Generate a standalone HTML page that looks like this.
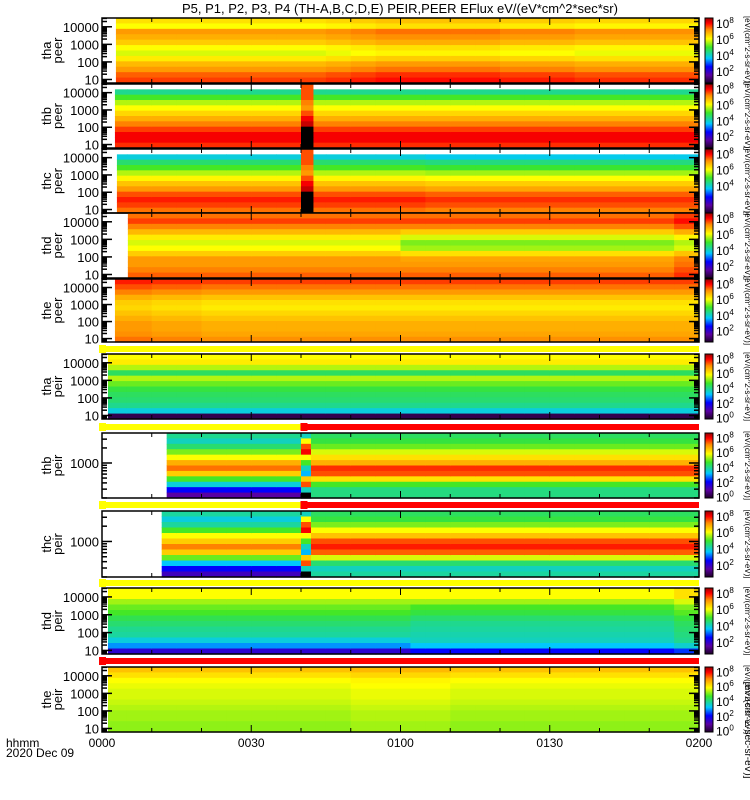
<!DOCTYPE html>
<html><head><meta charset="utf-8">
<style>
html,body{margin:0;padding:0;background:#fff;}
svg{display:block;font-family:"Liberation Sans",sans-serif;}
</style></head>
<body>
<svg id="chart" width="750" height="800" viewBox="0 0 750 800">
<defs>
<linearGradient id="cbgrad" x1="0" y1="1" x2="0" y2="0">
<stop offset="0" stop-color="rgb(30,0,40)"/>
<stop offset="0.12" stop-color="rgb(90,0,160)"/>
<stop offset="0.25" stop-color="rgb(0,0,255)"/>
<stop offset="0.38" stop-color="rgb(0,200,255)"/>
<stop offset="0.55" stop-color="rgb(60,230,40)"/>
<stop offset="0.68" stop-color="rgb(255,255,0)"/>
<stop offset="0.82" stop-color="rgb(255,140,0)"/>
<stop offset="0.92" stop-color="rgb(255,0,0)"/>
<stop offset="1" stop-color="rgb(150,0,0)"/>
</linearGradient>
</defs>
<text x="400" y="13" font-size="13" text-anchor="middle">P5, P1, P2, P3, P4 (TH-A,B,C,D,E) PEIR,PEER EFlux eV/(eV*cm^2*sec*sr)</text>
<g id="panels"></g>
<text x="6" y="747" font-size="12">hhmm</text>
<text x="6" y="757" font-size="12">2020 Dec 09</text>
</svg>
<script>
// ---- data ----
const panelNames = ["tha peer","thb peer","thc peer","thd peer","the peer","tha peir","thb peir","thc peir","thd peir","the peir"];
const panelStart = [2.8, 2.6, 3.0, 5.2, 2.6, 1.2, 13.0, 12.0, 1.2, 1.2];
const switchMin = [999, 999, 999, 60, 999, 999, 42, 42, 62, 999];
const profA = [
 [6.3,6.0,7.0,6.8,6.5,6.0,5.8,6.2,6.7,7.0,7.4,7.6],
 [null,4.3,5.0,5.6,6.0,6.4,6.8,7.2,7.6,8.0,8.0,7.7],
 [null,3.8,4.5,5.0,5.6,6.1,6.6,7.0,7.5,7.8,7.6,7.3],
 [7.3,7.6,7.2,6.7,6.2,5.8,6.0,6.5,7.0,7.0,7.2,7.4],
 [7.6,7.3,7.0,6.6,6.3,6.2,6.4,6.6,6.8,6.8,6.9,7.1],
 [6.0,6.2,5.6,4.6,5.6,5.2,4.8,4.6,4.5,4.3,3.8,0.8],
 [4.3,4.0,4.5,5.3,6.0,6.8,7.3,6.5,5.0,3.8,2.5,1.5],
 [4.2,3.8,4.2,5.0,6.0,6.5,7.2,6.5,5.2,3.6,2.5,1.8],
 [6.0,6.0,5.5,5.2,5.0,4.7,4.5,4.3,4.2,3.8,3.3,2.0],
 [6.6,6.3,6.0,5.9,5.8,5.8,5.7,5.6,5.5,5.5,5.4,5.4]
];
const profB = [
 null,null,null,
 [7.3,7.6,7.2,6.5,5.8,5.3,5.5,6.3,6.9,7.0,7.2,7.4],
 null,null,
 [4.6,4.8,5.2,5.8,6.3,6.8,7.7,7.5,6.3,5.0,4.4,4.4],
 [4.6,4.8,5.3,6.0,6.6,7.5,7.8,7.4,5.8,4.5,4.0,4.2],
 [6.0,6.0,5.5,5.0,4.8,4.5,4.3,4.2,4.1,4.0,3.6,2.5],
 null
];
const timeAdj = [
 [0,0,0,0,0,0,0,0,0,0.1,0.2,0.3,0.3,0.3,0.3,0.3,0.2,0.2,0.2,0.1,0.1,0.1,0.1,0.1],
 [0,0,0,0,0,0,0,0,0,0,0,0,0,0,0,0,0,0,0,0,0,0,0,0],
 [0,0,0,0,0,0,0,0,0,0,0,0,0,-0.1,-0.1,-0.1,-0.1,-0.1,-0.1,-0.1,-0.1,-0.1,-0.1,-0.1],
 [0,0,0,0,0,0,0,0,0,0,0,0,0,0,0,0,0,0,0,0,0,0,0,0.3],
 [0.2,0.2,0.1,0.1,0,0,0,0,0,0,0,0,0,0,0,0,0,0,0,0,0,0,0,0],
 [0,0,0,0,0,0,0,0,0,0,0,0,0,0,0,0,0,0,0,0,0,0,0,0],
 [0,0,0,0,0,0,0,0,0,0,0,0,0,0,0,0,0,0,0,0,0,0,0,0],
 [0,0,0,0,0,0,0,0,0,0,0,0,0,0,0,0,0,0,0,0,0,0,0,0],
 [0,0,0,0,0,0,0,0,0,0,0,0,0,0,0,0,0,0,0,0,0,0,0,0.3],
 [0,0,0,0,0,0,0,0,0,0,0.1,0.1,0.1,0.1,0,0,0,0,0,0,0,0,0,0]
];
const spikeStart = [null,40,40,null,null,null,40,40,null,null];
const spikeEnd = [null,42.5,42.5,null,null,null,42,42,null,null];
const spikeVals = [
 null,
 [7.5,7.5,7.5,7.2,7.0,7.5,8.0,8.3,0,0,0,0],
 [7.5,7.5,7.5,7.2,7.0,7.5,8.0,8.3,0,0,0,0],
 null,null,null,
 [4.0,6.0,7.5,8.0,6.0,5.0,4.0,3.5,6.5,7.5,4.0,0],
 [4.0,6.0,7.5,8.0,6.0,5.0,4.0,3.5,6.5,7.5,4.0,0],
 null,null
];
const yLogMin = [0.8,0.8,0.8,0.8,0.8,0.8,2.3,2.3,0.8,0.8];
const yLogMax = [4.5,4.5,4.5,4.5,4.5,4.5,3.6,3.6,4.5,4.5];
const cbarMin = [0.5,0.5,0.5,0.5,0.5,-0.2,-0.2,0.5,0.5,-0.2];
const cbarLabels = [[8,6,4,2],[8,6,4,2],[8,6,4],[8,6,4,2],[8,6,4,2],[8,6,4,2,0],[8,6,4,2,0],[8,6,4,2],[8,6,4,2],[8,6,4,2,0]];
const xTickLabels = ["0000","0030","0100","0130","0200"];
const barColorLeft = ["#ffff00","#ffff00","#ffff00","#ffff00","#ff0000"];
const barColorRight = ["#ffff00","#ff0000","#ff0000","#ffff00","#ff0000"];
const barSwitchMin = [null,40.5,40.5,null,null];

// ---- layout ----
const panelTop = [18,84,149,213,279,354,433,511,588,667];
const panelBot = [83,148,213,278,342,419,498,577,654,732];
const barY = [349,427,505,583,661];
const X0 = 102, X1 = 699;
const VMIN = 0.5, VMAX = 8.6;
const NS = "http://www.w3.org/2000/svg";
function xOf(min){ return X0 + (min/120)*(X1-X0); }
function yOf(p, lg){ return panelBot[p] - (lg - yLogMin[p])/(yLogMax[p]-yLogMin[p])*(panelBot[p]-panelTop[p]); }
const stops = [[0,[30,0,40]],[0.12,[90,0,160]],[0.25,[0,0,255]],[0.38,[0,200,255]],[0.55,[60,230,40]],[0.68,[255,255,0]],[0.82,[255,140,0]],[0.92,[255,0,0]],[1,[150,0,0]]];
function color(v){
  if (v <= 0.05) return "#000";
  let t = (v-VMIN)/(VMAX-VMIN); t = Math.max(0,Math.min(1,t));
  for (let i=1;i<stops.length;i++){
    if (t <= stops[i][0]){
      const a=stops[i-1], b=stops[i], f=(t-a[0])/(b[0]-a[0]);
      const c=a[1].map((q,k)=>Math.round(q+(b[1][k]-q)*f));
      return "rgb("+c.join(",")+")";
    }
  }
  return "rgb(150,0,0)";
}
function mk(tag, attrs, parent){
  const e = document.createElementNS(NS, tag);
  for (const k in attrs) e.setAttribute(k, attrs[k]);
  parent.appendChild(e); return e;
}
const root = document.getElementById("panels");
for (let p=0;p<10;p++){
  const g = mk("g",{},root);
  
  
  const top = panelTop[p], bot = panelBot[p], nR = 12, rh = (bot-top)/nR;
  for (let c=0;c<24;c++){
    let t0 = c*5, t1 = c*5+5;
    if (t1 <= panelStart[p]) continue;
    t0 = Math.max(t0, panelStart[p]);
    const segs = [];
    const sw = switchMin[p];
    if (sw > t0 && sw < t1){ segs.push([t0,sw]); segs.push([sw,t1]); } else segs.push([t0,t1]);
    for (const s of segs){
      const prof = (s[0] >= sw && profB[p]) ? profB[p] : profA[p];
      for (let r=0;r<nR;r++){
        if (prof[r] === null) continue;
        const v = prof[r] + timeAdj[p][c];
        const cell = mk("rect",{x:xOf(s[0]).toFixed(2), y:(top+r*rh).toFixed(2), width:(xOf(s[1])-xOf(s[0])+0.6).toFixed(2), height:(rh+0.6).toFixed(2), fill:color(v)}, g);
        
        
      }
    }
  }
  if (spikeStart[p] !== null){
    for (let r=0;r<12;r++){
      const cell = mk("rect",{x:xOf(spikeStart[p]), y:(top+r*rh).toFixed(2), width:(xOf(spikeEnd[p])-xOf(spikeStart[p])).toFixed(2), height:(rh+0.6).toFixed(2), fill:color(spikeVals[p][r])}, g);
      
      
    }
  }
  const fr = mk("rect",{x:X0,y:top,width:X1-X0,height:bot-top,fill:"none",stroke:"#000","stroke-width":1.5},g);
  
  
  for (let d=0; d<=5; d++){
    for (let m=1;m<=9;m++){
      const lg = d + Math.log10(m);
      if (lg < yLogMin[p] || lg > yLogMax[p]) continue;
      const y = yOf(p, lg), len = m===1?10:5;
      mk("line",{x1:X0,x2:X0+len,y1:y,y2:y,stroke:"#000","stroke-width":1.5},g);
      mk("line",{x1:X1,x2:X1-len,y1:y,y2:y,stroke:"#000","stroke-width":1.5},g);
      if (m===1){
        const tl = mk("text",{x:X0-3,y:y+5,"font-size":13,"text-anchor":"end"},g);
        tl.textContent = String(Math.pow(10,d));
        
        
      }
    }
  }
  for (let m=10;m<120;m+=10){
    const x = xOf(m), len = (m%30===0)?7:4;
    mk("line",{x1:x,x2:x,y1:bot,y2:bot-len,stroke:"#000"},g);
    mk("line",{x1:x,x2:x,y1:top,y2:top+len,stroke:"#000"},g);
  }
  const parts = panelNames[p].split(" ");
  const cy = (top+bot)/2;
  const yt = mk("text",{transform:"translate(53,"+cy+") rotate(-90)","font-size":13,"text-anchor":"middle"},g);
  
  
  const t1 = mk("tspan",{x:0,dy:-2},yt); t1.textContent = parts[0];
  const t2 = mk("tspan",{x:0,dy:11},yt); t2.textContent = parts[1];
  const cb = mk("rect",{x:705,y:top,width:8,height:bot-top,fill:"url(#cbgrad)",stroke:"#000","stroke-width":1},g);
  
  
  const cmax = 8.6;
  for (const L of cbarLabels[p]){
    const y = top + (cmax - L)/(cmax - cbarMin[p])*(bot-top);
    const lab = mk("text",{x:716,y:y+5,"font-size":12},g);
    
    
    const a = mk("tspan",{},lab); a.textContent = "10";
    const b = mk("tspan",{dy:-5,"font-size":8},lab); b.textContent = String(L);
  }
  const ut = mk("text",{transform:"translate(745,"+cy+") rotate(90)","font-size":8,"text-anchor":"middle"},g);
  ut.textContent = "[eV/(cm^2-s-sr-eV)]";
  
  
}
for (let i=0;i<5;i++){
  const g = mk("g",{},root);
  
  
  const y = barY[i];
  const sw = barSwitchMin[i];
  const xs = sw===null ? X1 : xOf(sw);
  mk("rect",{x:X0,y:y-3,width:xs-X0,height:6,fill:barColorLeft[i]},g);
  if (sw!==null){
    mk("rect",{x:xs,y:y-3,width:X1-xs,height:6,fill:barColorRight[i]},g);
    mk("rect",{x:xs-3,y:y-4,width:7,height:8,fill:barColorRight[i]},g);
  }
  mk("rect",{x:X0-3,y:y-4,width:7,height:8,fill:barColorLeft[i]},g);
}
for (let i=0;i<xTickLabels.length;i++){
  const t = mk("text",{x:xOf(i*30),y:747,"font-size":12,"text-anchor":"middle"},root);
  t.textContent = xTickLabels[i];
  
  
}
const bu = mk("text",{transform:"translate(745,730) rotate(90)","font-size":10,"text-anchor":"middle"},root);
bu.textContent = "[eV/(cm^2-sec-sr-eV)]";


</script>
</body></html>
